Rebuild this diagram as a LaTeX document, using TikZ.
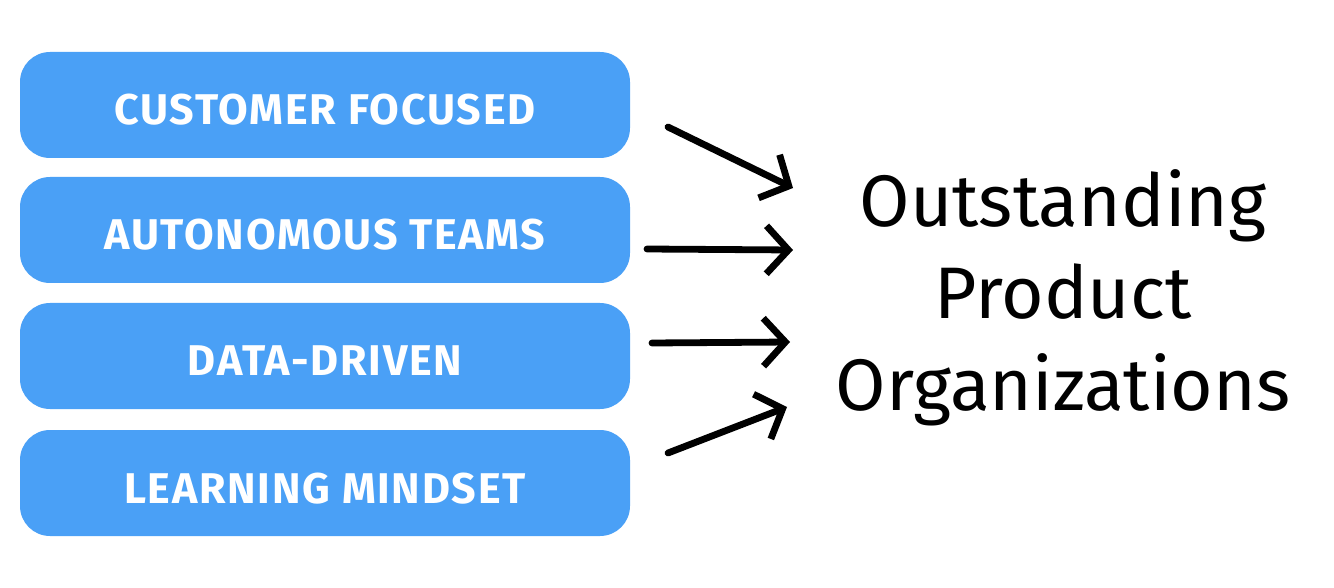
\documentclass[tikz,border=0pt]{standalone}
\usepackage{fontspec}
\setmainfont{Fira Sans}
\newfontfamily\pillfont[LetterSpace=4]{Fira Sans}
\usetikzlibrary{arrows.meta}
\definecolor{boxblue}{HTML}{4AA0F6}
\tikzset{
  pill/.style={fill=boxblue, rounded corners=15pt, minimum width=305pt, minimum height=53pt, inner sep=0pt, text height=20pt, text depth=0pt, text=white, font=\pillfont\bfseries\fontsize{21.5}{24}\selectfont},
  sketcharrow/.style={line width=3.4pt, line cap=round, line join=round, -{Straight Barb[length=11pt,width=24pt,line width=3.4pt]}},
  bigtext/.style={align=center, font=\fontsize{36.5}{46}\selectfont, inner sep=0pt}
}
\begin{document}
\begin{tikzpicture}[x=0.5pt,y=-0.5pt]
\useasboundingbox (0,0) rectangle (1334,588);
\node[pill] (b1) at (325,105) {CUSTOMER FOCUSED};
\node[pill] (b2) at (325,230) {AUTONOMOUS TEAMS};
\node[pill] (b3) at (325,356) {DATA-DRIVEN};
\node[pill] (b4) at (325,483) {LEARNING MINDSET};
\node[bigtext] (out) at (1063,298) {Outstanding\\Product\\Organizations};
\coordinate (s1) at (668,127); \coordinate (t1) at (793,188);
\coordinate (s2) at (647,249); \coordinate (t2) at (793,250);
\coordinate (s3) at (652,343); \coordinate (t3) at (790,342);
\coordinate (s4) at (668,453); \coordinate (t4) at (787,407);
\draw[sketcharrow] (s1) -- (t1);
\draw[sketcharrow] (s2) -- (t2);
\draw[sketcharrow] (s3) -- (t3);
\draw[sketcharrow] (s4) -- (t4);
\end{tikzpicture}
\end{document}
